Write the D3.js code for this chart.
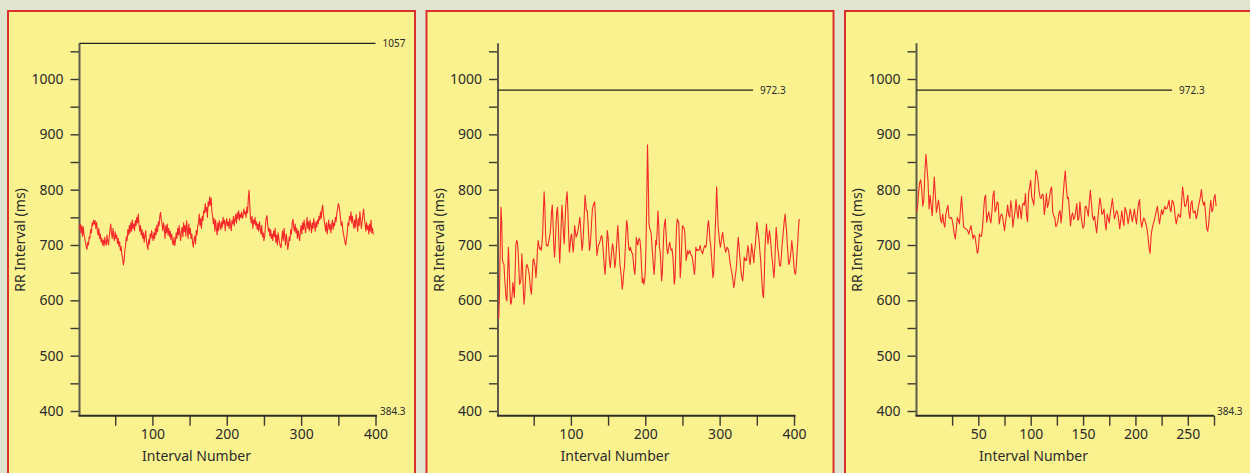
<!DOCTYPE html>
<html>
<head>
<meta charset="utf-8">
<script src="https://cdn.jsdelivr.net/npm/d3@7"></script>
<style>
  body { margin: 0; background: #e1e5cf; }
  svg { display: block; font-family: "Noto Sans", sans-serif; }
</style>
</head>
<body>
<svg id="chart" width="1250" height="473"></svg>
<script>
// RR intervals (ms), one value per beat
const rr1 = [
  728,738,722,735,716,733,720,712,705,697, 692,705,700,715,712,728,722,740,735,745,
  738,744,730,741,725,718,730,712,720,706, 712,700,709,698,714,703,700,718,706,700,
  715,728,738,722,712,730,716,708,724,712, 718,703,712,698,706,690,697,682,676,664,
  672,690,700,715,708,728,718,735,722,740, 725,745,730,738,726,744,735,750,740,756,
  738,725,735,718,728,712,722,705,716,726, 708,698,692,710,702,720,712,726,715,708,
  722,712,730,718,736,724,742,735,752,759, 745,738,726,740,730,712,735,722,738,718,
  730,715,725,710,720,705,700,714,699,708, 722,712,730,718,735,720,708,726,732,715,
  740,724,735,716,744,728,712,738,720,730, 712,720,705,696,710,716,702,726,718,735,
  740,756,735,748,730,752,744,762,758,775, 760,768,750,778,770,787,772,785,760,752,
  738,748,725,745,730,718,740,726,744,735, 728,742,732,750,738,745,726,740,748,735,
  742,730,748,736,726,744,738,752,735,746, 755,740,758,748,762,745,756,750,760,748,
  752,765,756,760,750,768,758,785,799,770, 748,740,752,730,745,738,750,735,742,728,
  738,725,742,730,720,735,715,722,708,716, 735,748,753,738,725,730,716,728,712,720,
  708,725,715,730,705,718,700,722,712,704, 698,695,712,725,708,730,715,700,720,708,
  692,700,715,708,728,720,740,747,732,725, 738,722,730,712,726,718,708,725,735,720,
  740,728,745,732,722,738,750,730,742,726, 745,735,722,740,730,748,736,725,742,732,
  745,738,752,745,760,748,765,772,755,745, 735,725,740,720,732,745,728,738,722,735,
  745,728,740,735,750,742,758,765,775,770, 760,748,735,742,728,720,712,705,700,712,
  722,740,735,752,745,760,740,752,738,730, 745,732,755,740,725,748,735,760,745,730,
  742,755,765,748,738,725,740,728,735,720, 738,725,745,722,730,719
];
const rr2 = [
  572,568,610,700,768,740,672,668,665,640, 620,602,599,650,696,660,620,593,596,610,
  632,618,605,650,700,708,706,690,660,629, 632,640,684,660,620,593,610,640,662,665,
  660,655,647,630,618,611,640,672,675,668, 660,641,660,690,708,700,693,695,690,700,
  720,760,796,770,720,699,700,698,705,712, 720,735,760,772,740,700,678,700,735,760,
  768,740,700,668,700,740,772,750,720,702, 735,768,785,796,760,720,687,700,715,720,
  705,687,700,735,725,714,718,723,730,740, 750,735,710,690,700,725,755,790,775,762,
  762,740,715,690,700,720,745,765,772,775, 778,750,710,681,690,700,702,706,712,717,
  714,699,680,660,647,670,700,726,715,690, 670,659,675,690,702,695,678,659,668,690,
  712,735,715,690,665,653,640,620,630,650, 660,690,720,744,735,710,693,690,696,690,
  686,684,670,655,647,670,714,705,700,708, 712,708,690,660,632,640,629,635,650,700,
  780,881,820,738,730,726,720,700,680,660, 647,670,708,700,725,762,740,696,690,665,
  635,650,690,726,740,747,720,695,684,690, 700,705,695,690,693,680,660,629,640,690,
  730,747,744,741,700,641,660,700,735,732, 732,725,700,672,680,690,684,686,690,684,
  681,680,670,660,647,660,696,690,692,690, 690,695,699,690,688,684,690,695,699,696,
  699,715,735,744,730,708,700,680,660,641, 650,690,726,760,805,770,732,720,705,696,
  705,715,723,712,702,695,687,690,696,694, 690,680,668,660,653,645,635,623,630,645,
  653,670,695,714,700,680,665,650,640,635, 650,678,672,675,672,686,699,690,672,665,
  680,702,690,680,668,690,700,720,741,730, 720,708,690,675,653,630,610,605,640,696,
  720,738,720,702,715,726,715,700,681,670, 655,641,660,700,732,715,695,687,670,662,
  662,680,700,714,730,745,756,740,726,700, 680,665,668,678,690,708,695,680,660,650,
  647,660,684,705,730,747
];
const rr3 = [
  759,768,795,812,818,800,770,781,830,864, 840,815,765,790,770,753,790,823,790,759,
  770,781,765,745,740,756,740,732,756,765, 772,750,748,750,746,735,720,711,730,750,
  745,738,765,788,760,732,731,729,728,725, 720,728,735,722,711,718,715,700,685,690,
  720,716,716,730,760,785,790,741,752,760, 748,740,760,790,798,760,765,778,775,738,
  750,756,753,740,726,742,755,772,755,750, 780,765,732,748,760,782,760,748,772,765,
  747,770,776,772,793,755,742,793,805,817, 787,780,772,805,835,830,817,798,786,784,
  792,790,755,770,793,768,775,787,800,805, 760,752,750,733,736,744,758,762,740,760,
  790,815,834,805,784,786,760,735,752,758, 746,750,760,775,745,748,778,755,740,730,
  735,770,770,762,752,780,799,775,752,745, 752,735,722,745,765,785,775,755,758,765,
  740,727,756,748,740,758,770,784,765,747, 755,762,759,745,729,745,762,745,735,768,
  762,754,738,750,765,755,742,752,765,750, 738,760,775,782,745,732,742,749,745,738,
  730,715,695,685,718,730,738,745,753,762, 770,752,738,752,764,755,762,770,765,766,
  772,781,765,760,781,778,770,750,738,748, 756,752,750,775,805,790,770,770,780,790,
  760,748,775,780,760,758,762,747,755,768, 778,787,800,780,772,778,755,730,725,740,
  765,781,760,765,785,791,770
];

const series = [rr1, rr2, rr3];
const xStarts = [2, 2, -9];
const xEnds = [402, 402, 275];
const xTickSteps = [50, 50, 25];
const xLabelSteps = [100, 100, 50];
const maxValues = [1057, 972.3, 972.3];
const maxLineEnds = [400, 345, 235];
const minLabels = ["384.3", null, "384.3"];
const frameMin = 384.3;
const frameMax = 1057;
const yTickValues = d3.range(400, 1051, 50);

const svg = d3.select("#chart");

const panelW = 407, panelGap = 418.5;
const axisLeft = 71.5, axisRight = 369;

// frame lines (min / max) and the tick marks are slightly offset in the original
const yFrame = d3.scaleLinear().domain([frameMin, frameMax]).range([415.7, 43.3]);
const yData = d3.scaleLinear().domain([400, 1000]).range([411, 79]);

series.forEach((values, p) => {
    const g = svg.append("g").attr("transform", `translate(${8 + p * panelGap},0)`);

    g.append("rect")
        .attr("x", 0).attr("y", 11)
        .attr("width", panelW).attr("height", 500)
        .attr("fill", "#f9f28f")
        .attr("stroke", "#dc3030")
        .attr("stroke-width", 2);

    const x = d3.scaleLinear().domain([xStarts[p], xEnds[p]]).range([axisLeft, axisRight]);

    // y ticks
    const yAxis = g.append("g")
        .attr("transform", `translate(${axisLeft},0)`)
        .call(d3.axisLeft(yData)
            .tickValues(yTickValues)
            .tickSize(9)
            .tickPadding(7)
            .tickFormat(d => d % 100 === 0 ? d : ""));
    yAxis.select(".domain").remove();

    // x ticks
    const xTicks = d3.range(xTickSteps[p], xEnds[p] + 0.01, xTickSteps[p]);
    const xAxis = g.append("g")
        .attr("transform", `translate(0,${yFrame(frameMin)})`)
        .call(d3.axisBottom(x)
            .tickValues(xTicks)
            .tickSize(10)
            .tickSizeOuter(0)
            .tickPadding(3)
            .tickFormat(d => d % xLabelSteps[p] === 0 ? d : ""));
    xAxis.select(".domain").remove();

    [yAxis, xAxis].forEach(a => {
        a.selectAll(".tick line").attr("stroke", "#3a3a30").attr("stroke-width", 1.4);
        a.selectAll(".tick text").attr("fill", "#2b2b2b").style("font-size", "14px")
            .style("font-family", "'Noto Sans', sans-serif");
    });

    // axis lines
    g.append("line")
        .attr("x1", axisLeft).attr("x2", axisLeft)
        .attr("y1", yFrame(frameMax)).attr("y2", yFrame(frameMin))
        .attr("stroke", "#5e5c48").attr("stroke-width", 2);
    g.append("line")
        .attr("x1", axisLeft - 1).attr("x2", axisRight)
        .attr("y1", yFrame(frameMin)).attr("y2", yFrame(frameMin))
        .attr("stroke", "#2e2e28").attr("stroke-width", 2);

    // max line
    g.append("line")
        .attr("x1", axisLeft).attr("x2", x(maxLineEnds[p]))
        .attr("y1", yFrame(maxValues[p])).attr("y2", yFrame(maxValues[p]))
        .attr("stroke", "#222").attr("stroke-width", 1.2);
    g.append("text")
        .attr("x", x(maxLineEnds[p]) + 7)
        .attr("y", yFrame(maxValues[p]))
        .attr("dy", "0.35em")
        .attr("fill", "#2b2b2b")
        .style("font-size", "10px")
        .text(maxValues[p]);

    if (minLabels[p]) {
        g.append("text")
            .attr("x", axisRight + 3)
            .attr("y", yFrame(frameMin) - 4)
            .attr("dy", "0.35em")
            .attr("fill", "#2b2b2b")
            .style("font-size", "10px")
            .text(minLabels[p]);
    }

    // RR series
    const line = d3.line()
        .x((d, i) => x(xStarts[p] + i))
        .y(d => yData(d));
    g.append("path")
        .datum(values)
        .attr("d", line)
        .attr("fill", "none")
        .attr("stroke", "#f42a2a")
        .attr("stroke-width", 1.1)
        .attr("stroke-linejoin", "round");

    // axis titles
    g.append("text")
        .attr("x", axisLeft + 117)
        .attr("y", 461)
        .attr("text-anchor", "middle")
        .attr("fill", "#2b2b2b")
        .style("font-size", "14px")
        .text("Interval Number");
    g.append("text")
        .attr("transform", `translate(17,240) rotate(-90)`)
        .attr("text-anchor", "middle")
        .attr("fill", "#2b2b2b")
        .style("font-size", "14px")
        .text("RR Interval (ms)");
});
</script>
</body>
</html>
